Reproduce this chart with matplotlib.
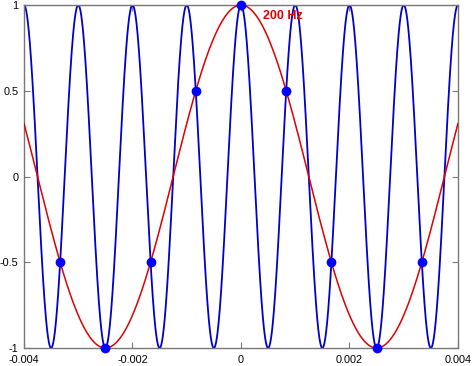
import numpy as np
import matplotlib
matplotlib.use("Agg")
import matplotlib.pyplot as plt

plt.rcParams['font.family'] = ['Liberation Sans', 'DejaVu Sans']

f_low = 200.0      # Hz
f_high = 1000.0    # Hz
fs = 1200.0        # sample rate
x_range = [-0.004, 0.004]
x_ticks = [-0.004, -0.002, 0, 0.002, 0.004]
x_ticklabels = ['-0.004', '-0.002', '0', '0.002', '0.004']
y_ticks = [-1, -0.5, 0, 0.5, 1]
y_ticklabels = ['-1', '-0.5', '0', '0.5', '1']
label_text = '200 Hz'

t = np.linspace(x_range[0], x_range[1], 4000)
ts = np.arange(-4, 5) / fs

fig = plt.figure(figsize=(4.74, 3.66), dpi=100)
ax = fig.add_axes([0.0506, 0.0492, 0.9156, 0.937])
ax.plot(t, np.cos(2*np.pi*f_high*t), color='#0000cc', lw=1.3, zorder=2)
ax.plot(t, np.cos(2*np.pi*f_low*t), color='#e00000', lw=1.1, zorder=3)
ax.plot(ts, np.cos(2*np.pi*f_low*ts), 'o', color='#0000ff', ms=6, zorder=4, clip_on=False)
ax.text(0.00041, 0.936, label_text, color='#e00000', fontweight='bold', fontsize=9, va='center', ha='left')

ax.set_xlim(x_range)
ax.set_ylim(-1, 1)
ax.set_xticks(x_ticks)
ax.set_xticklabels(x_ticklabels)
ax.set_yticks(y_ticks)
ax.set_yticklabels(y_ticklabels)
ax.tick_params(direction='in', top=True, right=True, labelsize=7.8, length=4, color='#777777')
ax.tick_params(axis='x', pad=5)
ax.tick_params(axis='y', pad=4)
for s in ax.spines.values():
    s.set_color('#777777')
    s.set_linewidth(1.0)

fig.savefig('out.png', dpi=100)
